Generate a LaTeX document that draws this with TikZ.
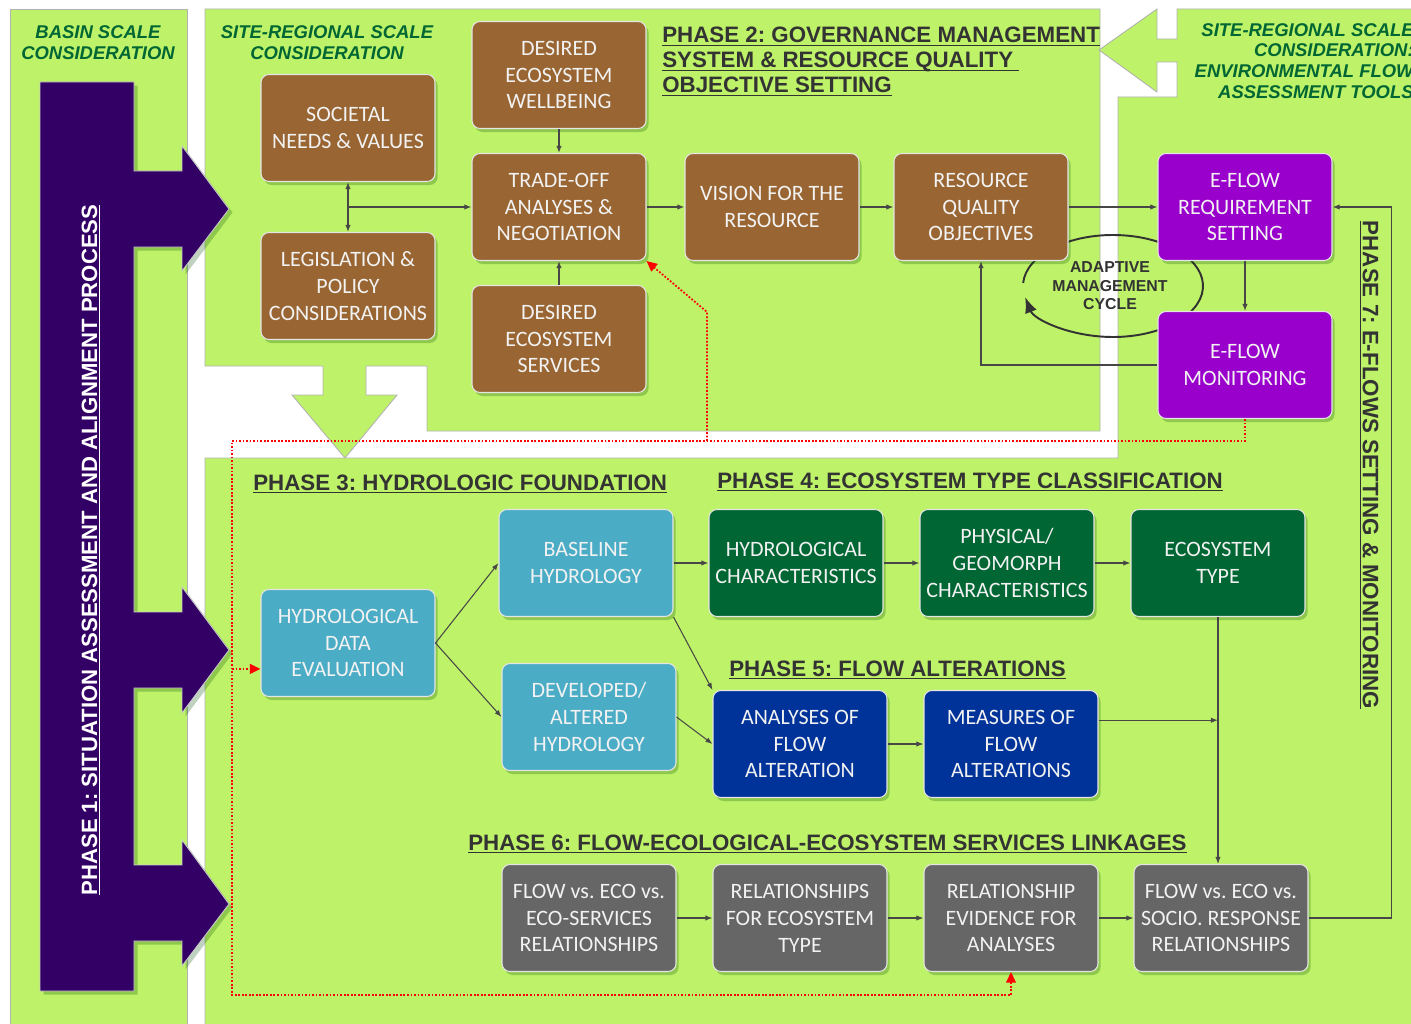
\documentclass[tikz,border=0pt]{standalone}
\usepackage{fontspec}
\setmainfont{Liberation Sans}
\newfontfamily\calibri{Carlito}
\usetikzlibrary{arrows.meta,shadows,calc}
\frenchspacing

\definecolor{panelgreen}{RGB}{190,242,104}
\definecolor{headgreen}{RGB}{0,102,51}
\definecolor{phaseone}{RGB}{51,0,102}
\definecolor{govbrown}{RGB}{153,102,51}
\definecolor{eflowpurple}{RGB}{153,0,204}
\definecolor{hydroblue}{RGB}{75,172,198}
\definecolor{ecogreen}{RGB}{0,102,51}
\definecolor{altblue}{RGB}{0,51,153}
\definecolor{linkgray}{RGB}{102,102,102}
\definecolor{textgray}{RGB}{51,51,51}

% underlined heading text
\newcommand{\ulhead}[1]{\setbox0\hbox{#1}\rlap{\rule[-1.8pt]{\wd0}{0.7pt}}\box0}

\tikzset{ltip/.tip={Latex[length=4pt,width=3pt]}}

\begin{document}
\begin{tikzpicture}[x=0.02cm,y=-0.02cm,
    panel/.style={fill=panelgreen,draw=gray!60,line width=0.5pt},
    box/.style={rectangle,rounded corners=4.5pt,draw=white!80!gray,line width=0.6pt,
      minimum width=3.48cm,minimum height=2.14cm,inner sep=1pt,align=center,
      text=white!95!black,font=\calibri\fontsize{12.5}{15.3}\selectfont,
      drop shadow={shadow xshift=1.5pt,shadow yshift=-2pt,opacity=0.25,fill=black!70!green}},
    govbox/.style={box,fill=govbrown},
    eflowbox/.style={box,fill=eflowpurple},
    hydrobox/.style={box,fill=hydroblue},
    ecobox/.style={box,fill=ecogreen},
    altbox/.style={box,fill=altblue},
    linkbox/.style={box,fill=linkgray},
    link/.style={draw=textgray!90,line width=0.6pt,-ltip},
    reddot/.style={draw=red,line width=1pt,dash pattern=on 1pt off 1pt,-{Triangle[length=6pt,width=5.5pt]}},
    phasehead/.style={font=\bfseries\fontsize{12.7}{15}\selectfont,text=textgray,inner sep=0pt},
    scalehead/.style={font=\bfseries\itshape\fontsize{10.5}{11.9}\selectfont,text=headgreen,inner sep=0pt},
  ]
  \useasboundingbox (0,0) rectangle (1411,1024);
  \clip (0,0) rectangle (1411,1024);

  % panels
  \draw[panel] (10,9) rectangle (187,1030);
  \draw[panel] (205,9) -- (1100,9) -- (1100,431) -- (427,431) -- (427,366)
    -- (366,366) -- (366,395) -- (397,395) -- (345,458) -- (292,395)
    -- (323,395) -- (323,366) -- (205,366) -- cycle;
  \draw[panel] (1099,50) -- (1157,9) -- (1157,39) -- (1177,39) -- (1177,9)
    -- (1420,9) -- (1420,1030) -- (205,1030) -- (205,458) -- (1118,458)
    -- (1118,97) -- (1177,97) -- (1177,62) -- (1157,62) -- (1157,92) -- cycle;

  % phase 1 arrow
  \draw[fill=phaseone,draw=gray!40,line width=0.5pt,
      drop shadow={shadow xshift=2pt,shadow yshift=-2pt,opacity=0.25,fill=black!70!green}]
    (40,82) -- (134,82) -- (134,171) -- (182,171) -- (182,146) -- (229,209)
    -- (182,271) -- (182,247) -- (134,247) -- (134,612) -- (182,612)
    -- (182,587) -- (229,650) -- (182,713) -- (182,688) -- (134,688)
    -- (134,865) -- (182,865) -- (182,840) -- (229,904) -- (182,966)
    -- (182,941) -- (134,941) -- (134,991) -- (40,991) -- cycle;
  \node[rotate=90,font=\bfseries\fontsize{12.6}{15}\selectfont,text=white,inner sep=0pt]
    (phase1) at (91,550) {\ulhead{PHASE 1: SITUATION ASSESSMENT AND ALIGNMENT PROCESS}};

  % adaptive management cycle
  \draw[line width=1.1pt,textgray,-{Latex[length=9pt,width=7pt]}]
    (1113,286) ++(183.4:90 and 51) arc[start angle=183.4,end angle=527.5,x radius=90,y radius=51];
  \node[font=\bfseries\fontsize{9}{10.5}\selectfont,text=textgray,align=center,inner sep=0pt]
    (amc) at (1110,286) {ADAPTIVE\\MANAGEMENT\\CYCLE};

  % phase 2 boxes
  \node[govbox] (soc) at (348,128) {SOCIETAL\\NEEDS \& VALUES};
  \node[govbox] (leg) at (348,286) {LEGISLATION \&\\POLICY\\CONSIDERATIONS};
  \node[govbox] (wellb) at (559,75) {DESIRED\\ECOSYSTEM\\WELLBEING};
  \node[govbox] (trade) at (559,207) {TRADE-OFF\\ANALYSES \&\\NEGOTIATION};
  \node[govbox] (serv) at (559,339) {DESIRED\\ECOSYSTEM\\SERVICES};
  \node[govbox] (vision) at (772,207) {VISION FOR THE\\RESOURCE};
  \node[govbox] (rqo) at (981,207) {RESOURCE\\QUALITY\\OBJECTIVES};
  \node[eflowbox] (efreq) at (1245,207) {E-FLOW\\REQUIREMENT\\SETTING};
  \node[eflowbox] (efmon) at (1245,365) {E-FLOW\\MONITORING};

  % phases 3 to 6 boxes
  \node[hydrobox] (hde) at (348,643) {HYDROLOGICAL\\DATA\\EVALUATION};
  \node[hydrobox] (base) at (586,563) {BASELINE\\HYDROLOGY};
  \node[hydrobox] (dev) at (589,717) {DEVELOPED/\\ALTERED\\HYDROLOGY};
  \node[ecobox] (hchar) at (796,563) {HYDROLOGICAL\\CHARACTERISTICS};
  \node[ecobox] (phys) at (1007,563) {PHYSICAL/\\GEOMORPH\\CHARACTERISTICS};
  \node[ecobox] (ecot) at (1218,563) {ECOSYSTEM\\TYPE};
  \node[altbox] (aof) at (800,744) {ANALYSES OF\\FLOW\\ALTERATION};
  \node[altbox] (mof) at (1011,744) {MEASURES OF\\FLOW\\ALTERATIONS};
  \node[linkbox] (feco) at (589,918) {FLOW vs. ECO vs.\\ECO-SERVICES\\RELATIONSHIPS};
  \node[linkbox] (rel) at (800,918) {RELATIONSHIPS\\FOR ECOSYSTEM\\TYPE};
  \node[linkbox] (evid) at (1011,918) {RELATIONSHIP\\EVIDENCE FOR\\ANALYSES};
  \node[linkbox] (socio) at (1221,918) {FLOW vs. ECO vs.\\SOCIO. RESPONSE\\RELATIONSHIPS};

  % connectors
  \draw[link,ltip-ltip] (soc) -- (leg);
  \coordinate (socmid) at ($(soc.south)!0.5!(leg.north)$);
  \draw[link] (socmid) -- (socmid -| trade.west);
  \draw[link] (wellb) -- (trade);
  \draw[link] (serv) -- (trade);
  \draw[link] (trade) -- (vision);
  \draw[link] (vision) -- (rqo);
  \draw[link] (rqo) -- (efreq);
  \draw[link] (efreq) -- (efmon);
  \draw[link] (efmon.west) -| (rqo.south);
  \draw[link] (socio.east) -- ++(83,0) |- (efreq.east);
  \draw[link] (hde.east) -- (base.west);
  \draw[link] (hde.east) -- (dev.west);
  \draw[link] (base) -- (hchar);
  \draw[link] (hchar) -- (phys);
  \draw[link] (phys) -- (ecot);
  \draw[link] (base.south east) -- (aof.north west);
  \draw[link] (dev.east) -- (aof.west);
  \draw[link] (aof) -- (mof);
  \draw[link] (ecot.south) -- (ecot.south |- socio.north);
  \coordinate (mofout) at ($(mof.north east)!0.28!(mof.south east)$);
  \draw[link] (mofout) -- (mofout -| ecot.south);
  \draw[link] (feco) -- (rel);
  \draw[link] (rel) -- (evid);
  \draw[link] (evid) -- (socio);

  % red feedback paths
  \coordinate (redNW) at (232,441);
  \coordinate (redSW) at (232,995);
  \coordinate (redup) at (707,441);
  \coordinate (redbend) at (707,312);
  \coordinate (hdein) at ($(hde.north west)!0.74!(hde.south west)$);
  \draw[reddot] (efmon.south) |- (redNW) -- (redSW) -| (evid.south);
  \draw[reddot] (redup) -- (redbend) -- (trade.south east);
  \draw[reddot] (hdein -| redNW) -- (hdein);

  % headings
  \node[phasehead,anchor=base west] (ph2a) at (662,43) {\ulhead{PHASE 2: GOVERNANCE MANAGEMENT}};
  \node[phasehead,anchor=base west] (ph2b) at (662,68) {\ulhead{SYSTEM \& RESOURCE QUALITY\ }};
  \node[phasehead,anchor=base west] (ph2c) at (662,93) {\ulhead{OBJECTIVE SETTING}};
  \node[phasehead,anchor=base west] (ph3) at (253,490) {\ulhead{PHASE 3: HYDROLOGIC FOUNDATION}};
  \node[phasehead,anchor=base west] (ph4) at (717,488) {\ulhead{PHASE 4: ECOSYSTEM TYPE CLASSIFICATION}};
  \node[phasehead,anchor=base west] (ph5) at (729,676) {\ulhead{PHASE 5: FLOW ALTERATIONS}};
  \node[phasehead,anchor=base west] (ph6) at (468,850) {\ulhead{PHASE 6: FLOW-ECOLOGICAL-ECOSYSTEM SERVICES LINKAGES}};
  \node[phasehead,rotate=-90] (ph7) at (1369,465) {\ulhead{PHASE 7: E-FLOWS SETTING \& MONITORING}};

  \node[scalehead,anchor=base] (basin1) at (98,39) {BASIN SCALE};
  \node[scalehead,anchor=base] (basin2) at (98,60) {CONSIDERATION};
  \node[scalehead,anchor=base] (site1) at (327,39) {SITE-REGIONAL SCALE};
  \node[scalehead,anchor=base] (site2) at (327,60) {CONSIDERATION};
  \node[scalehead,anchor=base east] (tool1) at (1414,37) {SITE-REGIONAL SCALE};
  \node[scalehead,anchor=base east] (tool2) at (1414,57) {CONSIDERATION:};
  \node[scalehead,anchor=base east] (tool3) at (1414,78) {ENVIRONMENTAL FLOW};
  \node[scalehead,anchor=base east] (tool4) at (1414,99) {ASSESSMENT TOOLS};
\end{tikzpicture}
\end{document}
